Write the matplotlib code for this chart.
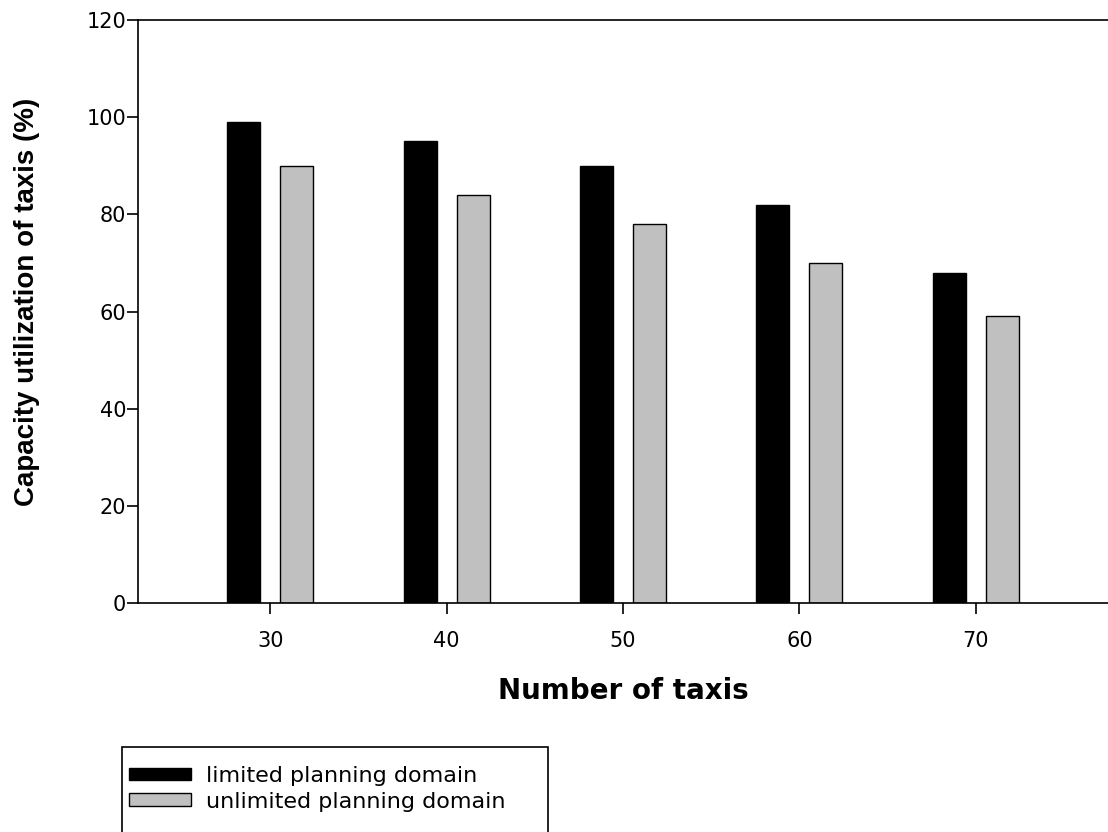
import matplotlib
matplotlib.use("Agg")
import matplotlib.pyplot as plt
import numpy as np
from matplotlib.patches import Rectangle, Patch

plt.rcParams['font.family'] = ['DejaVu Sans']

# Data
taxis = [30, 40, 50, 60, 70]
limited = [99, 95, 90, 82, 68]
unlimited = [90, 84, 78, 70, 59]
series_labels = ['limited planning domain', 'unlimited planning domain']

fig = plt.figure(figsize=(11.08, 8.32), dpi=100)
ax = fig.add_axes([138 / 1108, 1 - 603 / 832, 1 - 138 / 1108, (603 - 20) / 832])

x = np.array(taxis, dtype=float)
bar_w = 1.87
offset = 1.5
ax.bar(x - offset, limited, width=bar_w, color='black', edgecolor='black', linewidth=1)
ax.bar(x + offset, unlimited, width=bar_w, color='#c0c0c0', edgecolor='black', linewidth=1)

ax.set_xlim(22.5, 77.5)
ax.set_ylim(0, 120)
ax.set_xticks(taxis)
ax.set_yticks(range(0, 121, 20))
ax.spines['right'].set_visible(False)
for s in ['left', 'bottom', 'top']:
    ax.spines[s].set_linewidth(1.2)
ax.tick_params(direction='out', length=8, width=1.2, labelsize=15)
ax.tick_params(axis='y', pad=0.5)
ax.tick_params(axis='x', pad=12)

ax.set_xlabel('Number of taxis', fontsize=20, fontweight='bold', va='top')
ax.xaxis.set_label_coords(0.5, -0.127)
ax.set_ylabel('Capacity utilization of taxis (%)', fontsize=20, fontweight='bold',
              family='Liberation Sans')
ax.yaxis.set_label_coords(-0.101, 0.516)

# legend box (runs past the bottom edge like in the reference)
fig.patches.append(Rectangle((122 / 1108, -0.05), 426 / 1108, 1 - 747 / 832 + 0.05,
                             transform=fig.transFigure, facecolor='white',
                             edgecolor='black', linewidth=1.2))
handles = [Patch(facecolor='black', edgecolor='black'),
           Patch(facecolor='#c0c0c0', edgecolor='black')]
fig.legend(handles, series_labels, loc='upper left',
           bbox_to_anchor=(129 / 1108, 1 - 766 / 832), frameon=False,
           fontsize=16, handlelength=2.8, handleheight=0.5,
           handletextpad=0.65, labelspacing=0.25, borderpad=0, borderaxespad=0)

fig.savefig('out.png', dpi=100)
